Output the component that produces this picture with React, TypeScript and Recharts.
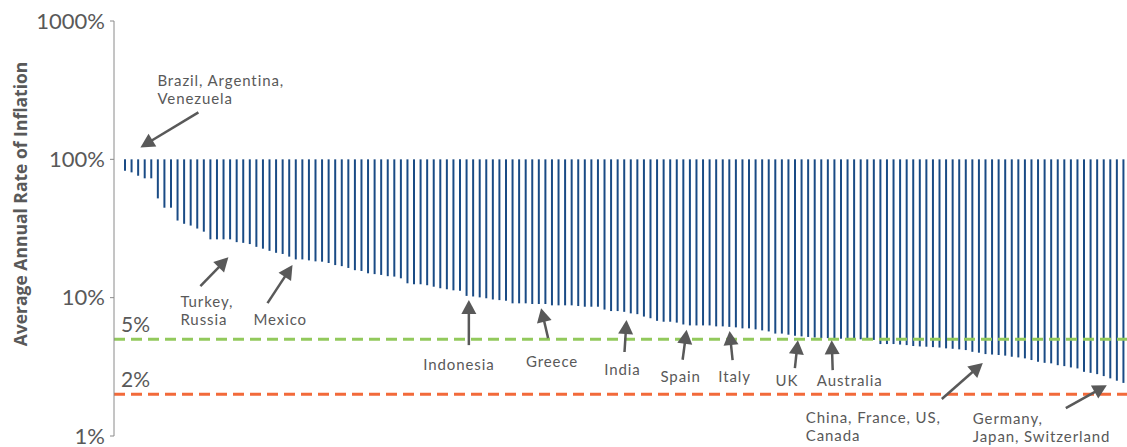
import React from 'react';
import { BarChart, Bar, XAxis, YAxis, ReferenceLine, ReferenceDot } from 'recharts';

// Average annual inflation (%) per country, sorted from highest to lowest
const RATES: number[] = [
  82.7, 80.5, 76.1, 72.9, 72.9, 52.2, 44.7, 44.7, 36.1, 34.2,
  33.2, 31.6, 30.0, 26.4, 26.4, 26.4, 26.4, 25.2, 24.9, 24.4,
  23.3, 22.6, 21.8, 21.1, 20.7, 19.8, 18.9, 18.9, 18.6, 18.3,
  18.2, 17.8, 17.2, 16.9, 16.4, 15.8, 15.6, 15.0, 14.8, 14.6,
  14.3, 14.2, 13.8, 12.7, 12.5, 12.5, 12.3, 12.0, 11.7, 11.5,
  11.3, 11.2, 10.3, 10.2, 10.05, 9.9, 9.7, 9.6, 9.5, 9.1,
  9.1, 9.1, 9.0, 9.0, 9.0, 8.8, 8.8, 8.8, 8.8, 8.7,
  8.6, 8.6, 8.6, 8.2, 8.0, 8.0, 7.9, 7.7, 7.6, 7.3,
  7.1, 6.8, 6.7, 6.7, 6.6, 6.4, 6.3, 6.3, 6.3, 6.3,
  6.2, 6.2, 6.15, 6.1, 6.0, 6.0, 5.9, 5.8, 5.7, 5.5,
  5.5, 5.4, 5.3, 5.25, 5.2, 5.15, 5.1, 5.1, 5.05, 5.05,
  5.0, 5.0, 5.0, 4.95, 4.95, 4.62, 4.62, 4.62, 4.58, 4.54,
  4.47, 4.44, 4.42, 4.39, 4.36, 4.30, 4.27, 4.23, 4.18, 4.06,
  4.0, 3.91, 3.88, 3.85, 3.81, 3.74, 3.70, 3.64, 3.54, 3.44,
  3.38, 3.35, 3.25, 3.20, 3.13, 3.08, 2.91, 2.86, 2.80, 2.71,
  2.61, 2.51, 2.42,
];

const BAR_TOP = 100;
const Y_TICKS = [1, 10, 100, 1000];
const TARGET_HIGH = 5;
const TARGET_LOW = 2;
const Y_LABEL = 'Average Annual Rate of Inflation';

// Annotation texts, the bar (index) each arrow points at and the value at the arrow tip
const ANNOTATION_TEXTS: string[][] = [
  ['Brazil, Argentina,', 'Venezuela'],
  ['Turkey,', 'Russia'],
  ['Mexico'],
  ['Indonesia'],
  ['Greece'],
  ['India'],
  ['Spain'],
  ['Italy'],
  ['UK'],
  ['Australia'],
  ['China, France, US,', 'Canada'],
  ['Germany,', 'Japan, Switzerland'],
];
const ANNOTATION_BARS = [2, 16, 25, 52, 63, 76, 85, 92, 102, 108, 130, 149];
const ANNOTATION_VALUES = [122, 19.6, 17.2, 9.6, 8.4, 6.9, 5.86, 5.73, 4.93, 4.93, 3.37, 2.33];

// Layout (pixel offsets relative to the arrow tip)
const ANNOTATION_LAYOUT = [
  { dx: 2, tail: [58, -35], text: [17, -67.5], anchor: 'start' },
  { dx: -2, tail: [-28, 29], text: [-48, 44], anchor: 'start' },
  { dx: 3, tail: [-25, 38], text: [-39, 54], anchor: 'start' },
  { dx: 2, tail: [0, 45], text: [-10, 64], anchor: 'middle' },
  { dx: 2, tail: [7, 30], text: [11, 53], anchor: 'middle' },
  { dx: 2, tail: [-2, 32], text: [-4, 49], anchor: 'middle' },
  { dx: 3, tail: [-4, 30], text: [-6, 46], anchor: 'middle' },
  { dx: 0, tail: [3, 29], text: [5, 45], anchor: 'middle' },
  { dx: 2.6, tail: [-3, 28], text: [-11, 40], anchor: 'middle' },
  { dx: -3, tail: [1, 30], text: [18, 40], anchor: 'middle' },
  { dx: 3.6, tail: [-41, 36], text: [-177, 54], anchor: 'start' },
  { dx: 2.8, tail: [-41, 23], text: [-134, 33], anchor: 'start' },
];

const FONT = '"Open Sans", Lato, sans-serif';
const ANNOT_FONT = 'Lato, "Open Sans", sans-serif';
const TICK_FONT = 'Lato, "Open Sans", sans-serif';
const GREY = '#595959';
const BAR_COLOR = '#1a4b85';

const data = RATES.map((v, i) => ({ id: i, range: [v, BAR_TOP] }));

function Arrow(props: any) {
  const { cx, cy, layout, lines } = props;
  if (cx == null || cy == null) return null;
  const tx = cx + layout.dx;
  const ty = cy;
  const sx = tx + layout.tail[0];
  const sy = ty + layout.tail[1];
  const len = Math.hypot(tx - sx, ty - sy);
  const ux = (tx - sx) / len;
  const uy = (ty - sy) / len;
  const L = 14;
  const W = 7.5;
  const bx = tx - ux * L;
  const by = ty - uy * L;
  const p1 = `${bx - uy * W},${by + ux * W}`;
  const p2 = `${bx + uy * W},${by - ux * W}`;
  const textX = tx + layout.text[0];
  const textY = ty + layout.text[1];
  return (
    <g>
      <line x1={sx} y1={sy} x2={tx - ux * L * 0.6} y2={ty - uy * L * 0.6} stroke={GREY} strokeWidth={2.5} />
      <polygon points={`${tx},${ty} ${p1} ${p2}`} fill={GREY} />
      <text
        x={textX}
        y={textY}
        textAnchor={layout.anchor}
        dominantBaseline="central"
        fill={GREY}
        fontSize={15}
        letterSpacing={0.9}
        fontFamily={ANNOT_FONT}
      >
        {lines.map((ln: string, k: number) => (
          <tspan key={k} x={textX} dy={k === 0 ? 0 : 18} dominantBaseline="central">
            {ln}
          </tspan>
        ))}
      </text>
    </g>
  );
}

export default function App() {
  return (
    <div style={{ position: 'absolute', left: 0, top: 0, width: 1127, height: 447, background: '#fff' }}>
      <BarChart
        width={1127}
        height={447}
        data={data}
        margin={{ top: 21, right: 0, bottom: 11, left: 0 }}
        style={{ fontFamily: FONT }}
      >
        <XAxis dataKey="id" type="category" hide padding={{ left: 8, right: 0 }} />
        <YAxis
          scale="log"
          type="number"
          domain={[1, 1000]}
          allowDataOverflow
          ticks={Y_TICKS}
          interval={0}
          width={114}
          tickFormatter={(v: number) => `${v}%`}
          tick={{ fill: GREY, fontSize: 22, fontWeight: 400, fontFamily: TICK_FONT }}
          tickSize={4}
          tickMargin={5}
          stroke="#8a8a8a"
          label={{
            content: () => (
              <text
                x={20}
                y={204}
                transform="rotate(-90 20 204)"
                textAnchor="middle"
                dominantBaseline="central"
                fill={GREY}
                fontSize={17.5}
                fontWeight={700}
                fontFamily={FONT}
              >
                {Y_LABEL}
              </text>
            ),
          }}
        />
        <Bar dataKey="range" fill={BAR_COLOR} barSize={2} isAnimationActive={false} />
        <ReferenceLine
          y={TARGET_HIGH}
          stroke="#92c95c"
          strokeWidth={3}
          strokeDasharray="11 6"
          label={{ value: `${TARGET_HIGH}%`, position: 'insideBottomLeft', offset: 7, fill: GREY, fontSize: 21, fontWeight: 400, fontFamily: TICK_FONT }}
        />
        <ReferenceLine
          y={TARGET_LOW}
          stroke="#f26a3a"
          strokeWidth={3}
          strokeDasharray="11 6"
          label={{ value: `${TARGET_LOW}%`, position: 'insideBottomLeft', offset: 7, fill: GREY, fontSize: 21, fontWeight: 400, fontFamily: TICK_FONT }}
        />
        {ANNOTATION_TEXTS.map((lines, i) => (
          <ReferenceDot
            key={i}
            x={ANNOTATION_BARS[i]}
            y={ANNOTATION_VALUES[i]}
            ifOverflow="visible"
            shape={(p: any) => <Arrow cx={p.cx} cy={p.cy} layout={ANNOTATION_LAYOUT[i]} lines={lines} />}
          />
        ))}
      </BarChart>
    </div>
  );
}
